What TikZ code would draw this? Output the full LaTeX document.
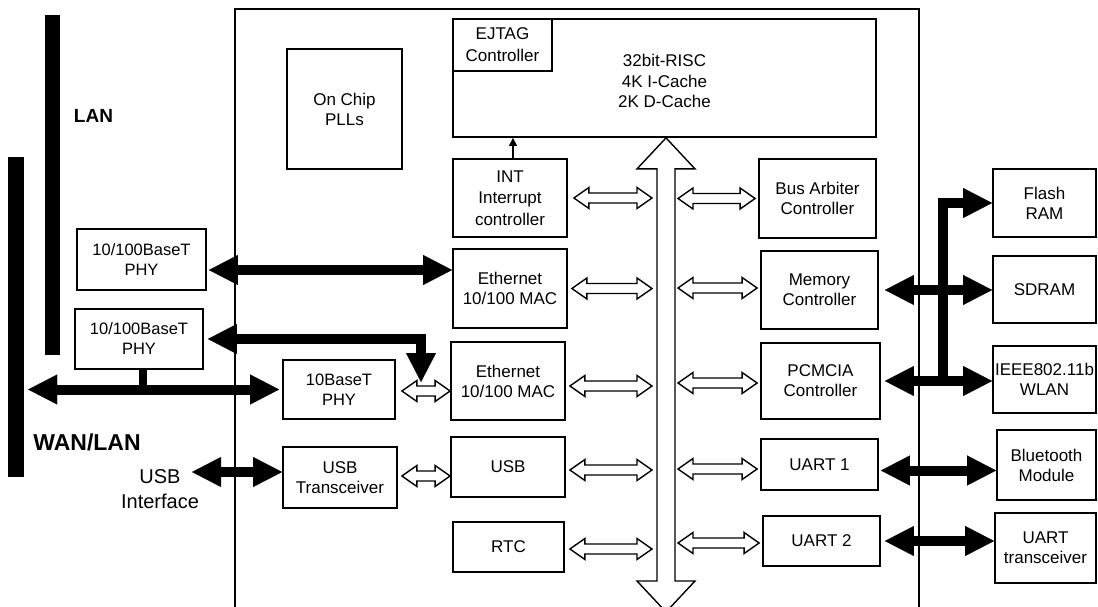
\documentclass[tikz,border=0pt]{standalone}
\usepackage{fontspec}
\setmainfont{Liberation Sans}
\usetikzlibrary{arrows.meta,calc}

\newcommand{\holarrow}[2]{\draw[hol] let \p1=#1, \p2=#2 in (\x1,\y1) -- ++(15pt,10.5pt) -- ++(0pt,-5.5pt) -- (\x2-15pt,\y1+5pt) -- ++(0pt,5.5pt) -- (\x2,\y1) -- ++(-15pt,-10.5pt) -- ++(0pt,5.5pt) -- (\x1+15pt,\y1-5pt) -- ++(0pt,-5.5pt) -- cycle;}

\begin{document}
\begin{tikzpicture}[x=1pt,y=-1pt,
  box/.style 2 args={draw, line width=1.8pt, align=center, inner sep=0pt, minimum width=#1pt, minimum height=#2pt},
  bar/.style 2 args={fill=black, inner sep=0pt, minimum width=#1pt, minimum height=#2pt},
  bigtri/.tip={Triangle[length=29pt,width=30pt,line width=0.1pt]},
  thk/.style={line width=10pt, bigtri-bigtri},
  hol/.style={draw, line width=1.4pt, fill=white, line join=miter},
  font=\fontsize{17}{20}\selectfont]
\useasboundingbox (0,0) rectangle (1098,607);
\draw[line width=1.7pt] (235,640) |- (919,9) -- (919,640);

\node[bar={15}{340}] (lanbar) at (52.5,185) {};
\node[bar={16}{320}] (wanbar) at (16,317) {};
\node[font=\fontsize{19}{22}\selectfont\bfseries] (lan) at (93.5,116) {LAN};
\node[font=\fontsize{23}{26}\selectfont\bfseries] (wan) at (87,442) {WAN/LAN};
\node[align=center, font=\fontsize{20}{25}\selectfont] (usbif) at (160,489) {USB\\Interface};

\node[box={115}{120}] (pll) at (344.5,109) {On Chip\\PLLs};
\node[box={423}{118}] (cpu) at (664.5,78) {};
\node[align=center, font=\fontsize{17}{20.5}\selectfont] (risc) at ([yshift=-3pt]cpu.center) {32bit-RISC\\4K I-Cache\\2K D-Cache};
\node[box={99}{52}, anchor=north west, font=\fontsize{17}{22}\selectfont] (ejtag) at (cpu.north west) {EJTAG\\Controller};
\node[box={114}{78}, font=\fontsize{17}{21.5}\selectfont] (int) at (510,198) {INT\\Interrupt\\controller};
\node[box={114}{79}] (mac1) at (510,288.5) {Ethernet\\10/100 MAC};
\node[box={114}{78}] (mac2) at (508,381) {Ethernet\\10/100 MAC};
\node[box={114}{60}] (usb) at (508,467) {USB};
\node[box={111}{50}] (rtc) at (508.5,547) {RTC};
\node[box={129}{61}, font=\fontsize{16.5}{20}\selectfont] (phy1) at (141.5,259.5) {10/100BaseT\\PHY};
\node[box={128}{60}, font=\fontsize{16.5}{20}\selectfont] (phy2) at (139,339) {10/100BaseT\\PHY};
\node[box={112}{59}, font=\fontsize{16.5}{20}\selectfont] (tenphy) at (339,389.5) {10BaseT\\PHY};
\node[box={114}{61}] (usbt) at (340,477.5) {USB\\Transceiver};
\node[box={117}{79}] (arb) at (817.5,198.5) {Bus Arbiter\\Controller};
\node[box={117}{78}] (mem) at (819.5,290) {Memory\\Controller};
\node[box={119}{76}] (pcm) at (820.5,381) {PCMCIA\\Controller};
\node[box={117}{51}] (uart1) at (819.5,464.5) {UART 1};
\node[box={117}{50}] (uart2) at (821.5,541) {UART 2};
\node[box={103}{68}] (flash) at (1044.5,203) {Flash\\RAM};
\node[box={103}{67}] (sdram) at (1044.5,289.5) {SDRAM};
\node[box={103}{67}] (wlan) at (1044.5,379.5) {IEEE802.11b\\WLAN};
\node[box={99}{70}] (bt) at (1046.5,465) {Bluetooth\\Module};
\node[box={101}{70}] (uartt) at (1045.5,548) {UART\\transceiver};

\coordinate (bustop) at (cpu.south -| 666,0);
\coordinate (busend) at (666,612);
\coordinate (busL) at (652,0);
\coordinate (busR) at (678,0);
\draw[hol] let \p1=(bustop), \p2=(busend) in (\x1,\y1) -- ++(29pt,-31pt) -- ++(-20pt,0pt) -- (\x1+9pt,\y2+31pt) -- ++(20pt,0pt) -- (\x1,\y2) -- ++(-29pt,31pt) -- ++(20pt,0pt) -- (\x1-9pt,\y1-31pt) -- ++(-20pt,0pt) -- cycle;

\holarrow{([xshift=6pt]int.east)}{(busL |- int.east)}
\holarrow{([xshift=4pt]mac1.east)}{(busL |- mac1.east)}
\holarrow{([xshift=4pt,yshift=-5pt]mac2.east)}{(busL |- mac2.east)}
\holarrow{([xshift=4pt,yshift=-3pt]usb.east)}{(busL |- usb.east)}
\holarrow{([xshift=5pt,yshift=-2pt]rtc.east)}{(busL |- rtc.east)}
\holarrow{(busR |- arb.west)}{([xshift=-3pt]arb.west)}
\holarrow{([yshift=2pt]busR |- mem.west)}{([xshift=-3pt]mem.west)}
\holarrow{([yshift=-2pt]busR |- pcm.west)}{([xshift=-3pt]pcm.west)}
\holarrow{([yshift=-4.5pt]busR |- uart1.west)}{([xshift=-3pt]uart1.west)}
\holarrow{([yshift=-2pt]busR |- uart2.west)}{([xshift=-3pt]uart2.west)}
\holarrow{([xshift=6pt,yshift=-1.5pt]tenphy.east)}{(mac2.west)}
\holarrow{([xshift=4pt,yshift=1.5pt]usbt.east)}{(usb.west)}

\draw[line width=1.3pt, -{Triangle[length=8pt,width=8pt]}] ([xshift=3pt]int.north) -- ([xshift=3pt]int.north |- cpu.south);

\coordinate (drop) at (421,382);
\coordinate (usbend) at (192,472);
\coordinate (jn) at (pcm.east -| 943,0);
\draw[thk] ([xshift=2pt,yshift=-10.5pt]phy1.east) coordinate (p1) -- (mac1.west |- p1);
\draw[thk] ([xshift=4pt]phy2.east) -| (drop);
\draw[thk] ([xshift=4pt]wanbar.east |- tenphy.west) -- ([xshift=-3pt]tenphy.west);
\draw[line width=8pt] ([xshift=4pt]phy2.south) -- ++(0,21);
\draw[thk] (usbend) -- (usbt.west |- usbend);
\draw[thk] ([xshift=6pt]mem.east) -- (sdram.west |- mem.east);
\draw[thk] ([xshift=4pt]pcm.east) -- (wlan.west |- pcm.east);
\draw[thk, -bigtri] (jn) |- (flash.west);
\draw[thk] ([xshift=2pt,yshift=-6pt]uart1.east) coordinate (u1) -- (bt.west |- u1);
\draw[thk] ([xshift=4pt]uart2.east) -- (uartt.west |- uart2.east);
\end{tikzpicture}
\end{document}
